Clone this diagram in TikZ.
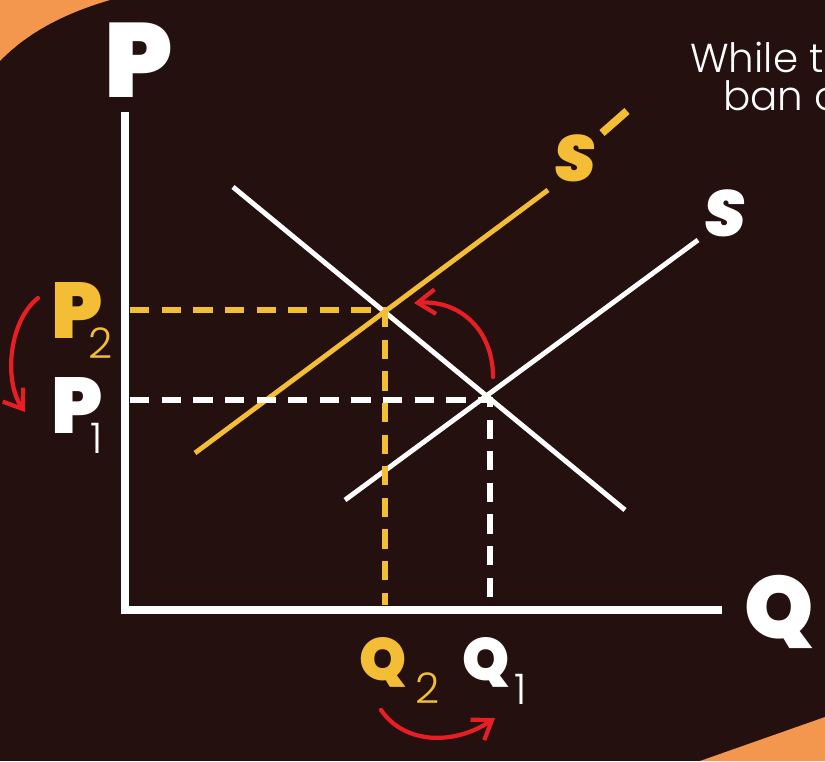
\documentclass[tikz,border=0pt]{standalone}
\usepackage{fontspec}
\usetikzlibrary{positioning, arrows.meta, calc}
\newfontfamily\heavyfont{Poppins Black}
\newfontfamily\heavyslant{Poppins Black}[FakeSlant=0.12]
\newfontfamily\lightfont{Poppins Light}
\definecolor{bgdark}{RGB}{37,16,16}
\definecolor{cornerorg}{RGB}{244,151,78}
\definecolor{supyel}{RGB}{243,190,54}
\definecolor{arrred}{RGB}{232,30,37}

\tikzset{
  axisline/.style={draw=white, line width=5pt},
  curveline/.style={line width=2.8pt},
  guide/.style={line width=3.4pt, dash pattern=on 11pt off 7pt},
  shiftarrow/.style={draw=arrred, line width=2.4pt, line cap=round,
    -{Straight Barb[length=10pt, width=14pt, line width=2.4pt]}},
  biglbl/.style={inner sep=0pt, text=white, font=\heavyfont\fontsize{60}{60}\selectfont},
  pqlbl/.style={inner sep=0pt, font=\heavyfont\fontsize{45}{45}\selectfont},
  sublbl/.style={inner sep=0pt, font=\lightfont\fontsize{24}{24}\selectfont},
  slbl/.style={inner sep=0pt, font=\heavyslant\fontsize{37}{37}\selectfont},
}

\begin{document}
\begin{tikzpicture}[x=0.02cm, y=-0.02cm]
  % background and corners
  \fill[bgdark] (0,0) rectangle (825,761);
  \useasboundingbox (0,0) rectangle (825,761);
  \fill[cornerorg] (0,0) -- (110,0) .. controls (62,14) and (26,34) .. (0,61) -- cycle;
  \fill[cornerorg] (700,761) -- (825,717) -- (825,761) -- cycle;

  % axes
  \coordinate (ytop) at (125,112);
  \coordinate (orig) at (125,610);
  \coordinate (xend) at (722,610);
  \draw[axisline] (ytop) -- (orig) -- (xend);
  \node[biglbl, anchor=base west] (plbl) at (104,97) {P};
  \node[biglbl, font=\heavyfont\fontsize{50}{50}\selectfont, anchor=base west] (qlbl) at (744,638) {Q};

  % demand and supply
  \coordinate (dtop) at (233,187);
  \coordinate (dbot) at (625,510);
  \coordinate (sbot) at (345,500);
  \coordinate (stop) at (698,240);
  \coordinate (s2bot) at (195,453);
  \coordinate (s2top) at (548,190);
  \draw[curveline, white] (dtop) -- (dbot);
  \draw[curveline, white] (sbot) -- (stop);
  \draw[curveline, supyel] (s2bot) -- (s2top);
  \node[slbl, white] (slab) at (723,213) {S};
  \node[slbl, supyel] (s2lab) at (573,158) {S};
  \coordinate (primea) at (602,133);
  \coordinate (primeb) at (627,111);
  \draw[supyel, line width=4.5pt] (primea) -- (primeb);

  % equilibria
  \coordinate (eone) at (490,400);
  \coordinate (etwo) at (385,310);
  \draw[guide, white] (130,400) -- (eone) -- (490,605);
  \draw[guide, supyel] (130,310) -- (etwo) -- (385,605);

  % price labels
  \node[pqlbl, supyel, anchor=base west] (ptwo) at (51,338) {P};
  \node[sublbl, supyel, anchor=base west] (ptwosub) at (88,358) {2};
  \node[pqlbl, white, anchor=base west] (pone) at (51,433) {P};
  \node[sublbl, white, anchor=base west] (ponesub) at (90,453) {1};

  % quantity labels
  \node[pqlbl, font=\heavyfont\fontsize{34}{34}\selectfont, supyel, anchor=base west] (qtwo) at (359,680) {Q};
  \node[sublbl, supyel, anchor=base west] (qtwosub) at (415,703) {2};
  \node[pqlbl, font=\heavyfont\fontsize{34}{34}\selectfont, white, anchor=base west] (qone) at (462,680) {Q};
  \node[sublbl, white, anchor=base west] (qonesub) at (514,704) {1};

  % shift arrows
  \draw[shiftarrow] (38,298) .. controls (8,322) and (4,382) .. (25,412);
  \draw[shiftarrow] (493,377) .. controls (493,330) and (460,300) .. (414,303);
  \draw[shiftarrow] (381,710) .. controls (405,745) and (455,745) .. (495,718);

  % side text
  \node[inner sep=0pt, anchor=base west, text=white,
        font=\lightfont\fontsize{23}{23}\selectfont] (txtone) at (690,72) {While t};
  \node[inner sep=0pt, anchor=base west, text=white,
        font=\lightfont\fontsize{23}{23}\selectfont] (txttwo) at (723,110) {ban o};
\end{tikzpicture}
\end{document}
